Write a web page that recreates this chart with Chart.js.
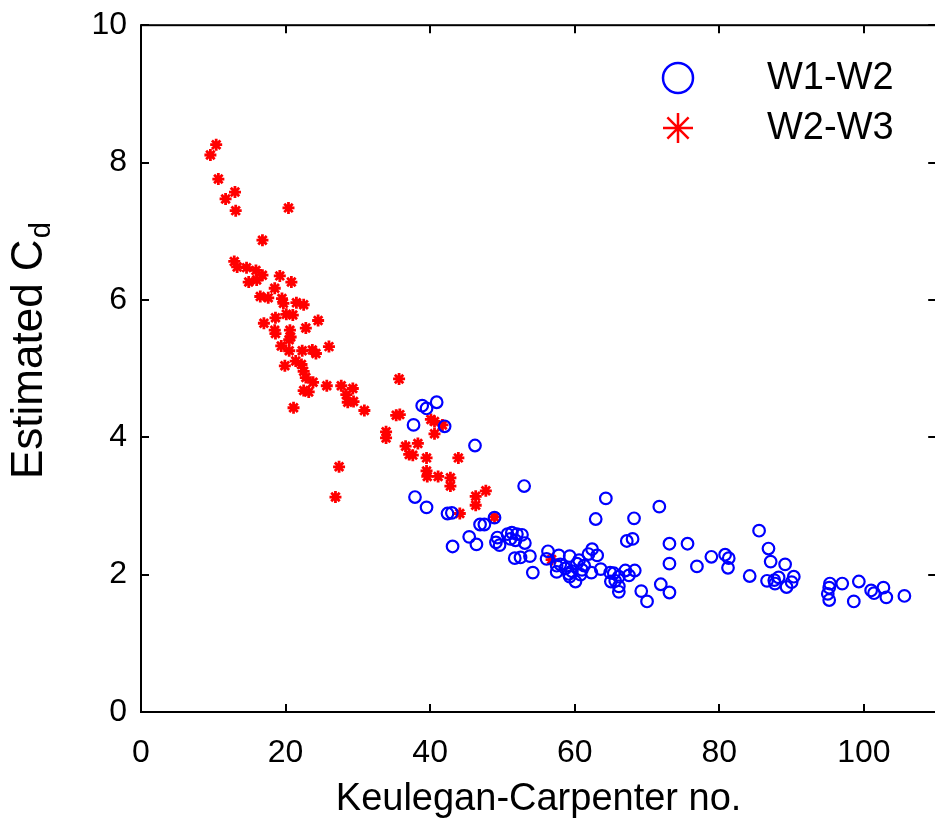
<!DOCTYPE html>
<html>
<head>
<meta charset="utf-8">
<script src="https://cdn.jsdelivr.net/npm/chart.js@4.4.0/dist/chart.umd.min.js"></script>
<style>
  html, body { margin: 0; padding: 0; background: #fff; overflow: hidden; }
  #wrap { width: 935px; height: 822px; overflow: hidden; }
</style>
</head>
<body>
<div id="wrap"><canvas id="kcChart" width="945" height="822"></canvas></div>
<script>
// ---- data ----
const xTicks = [0, 20, 40, 60, 80, 100];
const yTicks = [0, 2, 4, 6, 8, 10];

// W1-W2 (blue circles)
const w12KC = [37.7, 38.9, 39.5, 40.9, 42.0, 46.2, 37.9, 39.5, 42.4, 43.0,
  53.0, 64.3, 62.9, 48.9, 46.9, 47.5, 45.4, 46.4, 43.1, 49.1,
  49.6, 49.3, 50.7, 51.3, 52.0, 52.7, 51.1, 51.8, 53.1, 51.7,
  52.5, 53.8, 54.2, 56.3, 56.1, 57.8, 59.3, 57.5, 57.5, 58.7,
  59.6, 60.6, 60.3, 61.9, 62.4, 63.1, 63.6, 62.3, 60.1, 59.3,
  64.9, 65.6, 71.7, 68.2, 67.2, 68.0, 73.1, 75.6, 73.1, 76.9,
  78.9, 80.8, 81.3, 81.2, 84.2, 85.5, 86.8, 87.1, 89.1, 86.6,
  87.6, 88.2, 87.7, 89.3, 90.3, 90.0, 71.9, 73.1, 69.2, 70.0,
  67.0, 68.3, 67.5, 65.4, 66.1, 65.0, 66.1, 66.1, 95.3, 95.2,
  95.0, 95.2, 97.0, 99.3, 98.6, 101.0, 101.4, 102.7, 103.1, 105.6,
  58.0, 61.0, 61.3, 60.8, 59.2];
const w12Cd = [4.18, 4.46, 4.42, 4.51, 4.16, 3.88, 3.13, 2.98, 2.89, 2.90,
  3.29, 3.11, 2.81, 2.83, 2.73, 2.73, 2.55, 2.44, 2.41, 2.47,
  2.43, 2.54, 2.59, 2.61, 2.59, 2.58, 2.52, 2.50, 2.46, 2.24,
  2.25, 2.27, 2.03, 2.34, 2.23, 2.28, 2.27, 2.13, 2.04, 2.09,
  2.05, 2.21, 2.16, 2.30, 2.37, 2.28, 2.08, 2.03, 1.90, 1.97,
  2.03, 1.91, 2.99, 2.82, 2.49, 2.52, 2.45, 2.45, 2.16, 2.12,
  2.26, 2.29, 2.24, 2.10, 1.98, 2.64, 2.38, 2.19, 2.15, 1.91,
  1.92, 1.96, 1.87, 1.82, 1.97, 1.89, 1.86, 1.74, 1.76, 1.61,
  2.06, 2.06, 1.99, 2.02, 1.97, 1.90, 1.83, 1.75, 1.87, 1.81,
  1.72, 1.63, 1.87, 1.90, 1.61, 1.77, 1.73, 1.81, 1.67, 1.69,
  2.15, 2.07, 2.13, 2.00, 2.01];

// W2-W3 (red stars)
const w23KC = [10.4, 9.6, 10.7, 13.0, 11.7, 13.1, 20.4, 16.8, 12.9, 13.3,
  14.6, 15.9, 16.8, 14.9, 16.0, 19.2, 20.8, 18.5, 16.5, 17.6,
  19.5, 19.7, 21.5, 22.5, 18.6, 20.1, 21.0, 24.5, 17.0, 18.5,
  18.6, 20.6, 20.7, 20.5, 22.8, 19.4, 20.5, 22.3, 23.7, 24.2,
  26.0, 19.9, 21.4, 22.2, 22.5, 22.8, 23.8, 22.5, 23.2, 25.7,
  27.7, 29.3, 28.4, 28.6, 29.4, 21.1, 30.9, 35.7, 35.3, 35.8,
  33.9, 33.9, 36.6, 38.3, 37.1, 37.6, 39.5, 43.9, 39.5, 39.6,
  41.1, 42.8, 42.8, 27.4, 26.9, 46.3, 46.3, 47.7, 44.1, 40.1,
  40.6, 41.7, 40.6, 48.9, 56.8];
const w23Cd = [8.26, 8.11, 7.76, 7.57, 7.47, 7.30, 7.34, 6.87, 6.56, 6.48,
  6.47, 6.43, 6.36, 6.26, 6.29, 6.35, 6.26, 6.17, 6.05, 6.03,
  6.02, 5.95, 5.96, 5.93, 5.74, 5.79, 5.78, 5.70, 5.66, 5.56,
  5.51, 5.56, 5.46, 5.42, 5.59, 5.33, 5.26, 5.26, 5.27, 5.22,
  5.32, 5.04, 5.11, 5.06, 4.96, 4.87, 4.80, 4.68, 4.66, 4.75,
  4.75, 4.71, 4.62, 4.51, 4.52, 4.43, 4.39, 4.85, 4.32, 4.33,
  4.08, 3.99, 3.87, 3.91, 3.75, 3.74, 3.70, 3.70, 3.51, 3.43,
  3.43, 3.41, 3.29, 3.57, 3.13, 3.14, 3.01, 3.22, 2.89, 4.26,
  4.23, 4.18, 4.05, 2.84, 2.22];

const seriesNames = ['W1-W2', 'W2-W3'];
const xTitle = 'Keulegan-Carpenter no.';

const FONT = "'Liberation Sans', Arial, Helvetica, sans-serif";
const BLUE = '#0000ff';
const RED = '#ff0000';

const toPoints = (xs, ys) => xs.map((x, i) => ({ x: x, y: ys[i] }));

// box with inward ticks, y title with subscript, legend inside the plot
const framePlugin = {
  id: 'frame',
  afterDatasetsDraw(chart) {
    const { ctx, chartArea: a, scales: { x, y } } = chart;
    ctx.save();
    ctx.strokeStyle = '#000';
    ctx.lineWidth = 2;
    ctx.strokeRect(a.left, a.top, a.right - a.left, a.bottom - a.top);

    const tl = 8;
    ctx.beginPath();
    xTicks.forEach(v => {
      const px = Math.round(x.getPixelForValue(v));
      ctx.moveTo(px, a.bottom); ctx.lineTo(px, a.bottom - tl);
      ctx.moveTo(px, a.top); ctx.lineTo(px, a.top + tl);
    });
    yTicks.forEach(v => {
      const py = Math.round(y.getPixelForValue(v));
      ctx.moveTo(a.left, py); ctx.lineTo(a.left + tl, py);
      ctx.moveTo(a.right, py); ctx.lineTo(a.right - tl, py);
    });
    ctx.stroke();

    // y axis title: Estimated C_d
    ctx.fillStyle = '#000';
    ctx.translate(42, 479);
    ctx.rotate(-Math.PI / 2);
    ctx.textBaseline = 'alphabetic';
    ctx.textAlign = 'left';
    ctx.font = '44px ' + FONT;
    const main = 'Estimated C';
    ctx.fillText(main, 0, 0);
    const w = ctx.measureText(main).width;
    ctx.font = '29px ' + FONT;
    ctx.fillText('d', w + 1, 8);
    ctx.restore();

    // legend
    ctx.save();
    ctx.lineWidth = 2.5;
    ctx.strokeStyle = BLUE;
    ctx.beginPath();
    ctx.arc(678, 78, 15, 0, Math.PI * 2);
    ctx.stroke();
    ctx.strokeStyle = RED;
    ctx.beginPath();
    const r = 15;
    for (let k = 0; k < 4; k++) {
      const ang = k * Math.PI / 4;
      ctx.moveTo(678 - r * Math.cos(ang), 128 - r * Math.sin(ang));
      ctx.lineTo(678 + r * Math.cos(ang), 128 + r * Math.sin(ang));
    }
    ctx.stroke();
    ctx.fillStyle = '#000';
    ctx.font = '38px ' + FONT;
    ctx.textBaseline = 'middle';
    ctx.textAlign = 'left';
    ctx.fillText(seriesNames[0], 767, 79);
    ctx.fillText(seriesNames[1], 767, 129);
    ctx.restore();
  }
};

new Chart(document.getElementById('kcChart').getContext('2d'), {
  type: 'scatter',
  data: {
    datasets: [
      {
        label: seriesNames[0],
        data: toPoints(w12KC, w12Cd),
        pointStyle: 'circle',
        pointRadius: 5.8,
        borderColor: BLUE,
        backgroundColor: 'rgba(0,0,0,0)',
        borderWidth: 2.2
      },
      {
        label: seriesNames[1],
        data: toPoints(w23KC, w23Cd),
        pointStyle: 'star',
        pointRadius: 6,
        borderColor: RED,
        backgroundColor: RED,
        borderWidth: 2.8
      }
    ]
  },
  options: {
    responsive: false,
    animation: false,
    devicePixelRatio: 1,
    layout: { padding: { top: 0, right: 8, left: 0, bottom: 0 } },
    plugins: { legend: { display: false }, tooltip: { enabled: false } },
    scales: {
      x: {
        type: 'linear',
        min: 0,
        max: 110,
        afterBuildTicks: s => { s.ticks = xTicks.map(v => ({ value: v })); },
        afterFit: s => { s.height = 110; },
        grid: { display: false },
        border: { display: false },
        ticks: { color: '#000', font: { family: FONT, size: 32 }, padding: 14, maxRotation: 0, autoSkip: false },
        title: { display: true, text: xTitle, color: '#000', font: { family: FONT, size: 38 }, padding: { top: 0, bottom: 0 } }
      },
      y: {
        type: 'linear',
        min: 0,
        max: 10,
        afterBuildTicks: s => { s.ticks = yTicks.map(v => ({ value: v })); },
        afterFit: s => { s.width = 141; },
        grid: { display: false },
        border: { display: false },
        ticks: { color: '#000', font: { family: FONT, size: 32 }, padding: 6, autoSkip: false }
      }
    }
  },
  plugins: [framePlugin]
});
</script>
</body>
</html>
